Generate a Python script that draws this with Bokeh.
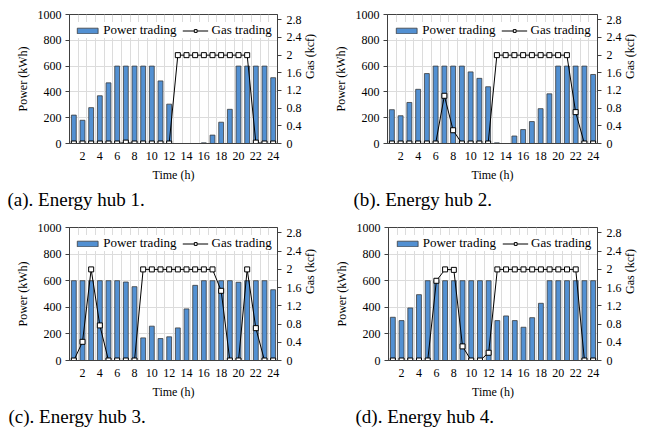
import math
from bokeh.plotting import figure
from bokeh.models import (Range1d, LinearAxis, FixedTicker, Legend, LegendItem, Title,
                          CustomJSTickFormatter, ColumnDataSource)
from bokeh.layouts import row, column
from bokeh.embed import file_html
from bokeh.resources import INLINE

FONT = "Liberation Serif"

hours = list(range(1, 25))
x_tick_labels = [2, 4, 6, 8, 10, 12, 14, 16, 18, 20, 22, 24]
power_ticks = [0, 200, 400, 600, 800, 1000]
gas_ticks = [0, 0.4, 0.8, 1.2, 1.6, 2, 2.4, 2.8]

captions = ["(a). Energy hub 1.", "(b). Energy hub 2.", "(c). Energy hub 3.", "(d). Energy hub 4."]

power_hub1 = [220, 180, 278, 370, 470, 600, 600, 600, 600, 600, 485, 305,
              0, 0, 0, 5, 65, 165, 265, 600, 600, 600, 600, 510]
gas_hub1 = [0, 0, 0, 0, 0, 0, 0.02, 0, 0, 0, 0, 0,
            2, 2, 2, 2, 2, 2, 2, 2, 2, 0.02, 0, 0]

power_hub2 = [262, 215, 318, 420, 542, 600, 600, 600, 600, 555, 505, 440,
              5, 0, 58, 108, 170, 270, 385, 600, 600, 600, 600, 535]
gas_hub2 = [0, 0, 0, 0, 0, 0, 1.08, 0.3, 0, 0, 0, 0,
            2, 2, 2, 2, 2, 2, 2, 2, 2, 0.71, 0, 0]

power_hub3 = [600, 600, 600, 600, 600, 600, 590, 555, 170, 258, 165, 178,
              245, 388, 565, 600, 600, 600, 600, 588, 600, 600, 600, 532]
gas_hub3 = [0, 0.41, 2, 0.77, 0, 0, 0, 0, 2, 2, 2, 2,
            2, 2, 2, 2, 2, 1.53, 0, 0, 2, 0.71, 0, 0]

power_hub4 = [325, 300, 395, 495, 600, 600, 600, 600, 600, 600, 600, 600,
              300, 335, 300, 250, 322, 430, 600, 600, 600, 600, 600, 600]
gas_hub4 = [0, 0, 0, 0, 0, 1.75, 2, 1.99, 0.31, 0, 0, 0.17,
            2, 2, 2, 2, 2, 2, 2, 2, 2, 2, 0, 0]

BAR_FILL = "#5290D2"
BAR_LINE = "#3C3C3C"
AXIS_COLOR = "#404040"
GRID_COLOR = "#DCDCDC"


def make_panel(power, gas, caption, width, height, bl, br, bt, bb, cap_offset):
    p = figure(width=width, height=height,
               x_range=Range1d(0.5, 24.5), y_range=Range1d(0, 1000),
               output_backend="svg", toolbar_location=None,
               min_border_left=bl, min_border_right=br,
               min_border_top=bt, min_border_bottom=bb)
    p.extra_y_ranges = {"gas": Range1d(0, 2.92)}
    p.outline_line_color = AXIS_COLOR
    p.outline_line_width = 1
    p.background_fill_color = "white"
    p.border_fill_color = "white"

    src = ColumnDataSource(dict(hours=hours, power=power, gas=gas))

    # grids
    p.xgrid.ticker = FixedTicker(ticks=[h - 0.5 for h in hours] + [hours[-1] + 0.5])
    p.ygrid.ticker = FixedTicker(ticks=power_ticks)
    p.xgrid.grid_line_color = GRID_COLOR
    p.ygrid.grid_line_color = GRID_COLOR

    bars = p.vbar(x="hours", top="power", width=0.56, source=src,
                  fill_color=BAR_FILL, line_color=BAR_LINE, line_width=0.8)
    gl = p.line(x="hours", y="gas", source=src, y_range_name="gas",
                line_color="black", line_width=1)
    gm = p.scatter(x="hours", y="gas", source=src, y_range_name="gas",
                   marker="square", size=5, fill_color="white",
                   line_color="black", line_width=1)

    # x axis
    xa = p.xaxis[0]
    xa.ticker = FixedTicker(ticks=x_tick_labels)
    xa.axis_label = "Time (h)"
    xa.major_tick_line_color = None
    xa.minor_tick_line_color = None
    xa.major_tick_out = 0
    xa.major_tick_in = 0
    xa.minor_tick_out = 0
    xa.axis_line_color = AXIS_COLOR
    xa.major_label_standoff = 8
    xa.axis_label_standoff = 5

    # left axis
    ya = p.yaxis[0]
    ya.ticker = FixedTicker(ticks=power_ticks)
    ya.axis_label = "Power (kWh)"
    ya.minor_tick_line_color = None
    ya.minor_tick_out = 0
    ya.major_tick_in = 0
    ya.major_tick_out = 4
    ya.axis_line_color = AXIS_COLOR
    ya.major_tick_line_color = AXIS_COLOR
    ya.major_label_standoff = 4
    ya.axis_label_standoff = 5

    ra = LinearAxis(y_range_name="gas", axis_label="Gas (kcf)",
                    ticker=FixedTicker(ticks=gas_ticks),
                    formatter=CustomJSTickFormatter(code="return String(tick);"))
    ra.minor_tick_line_color = None
    ra.minor_tick_out = 0
    ra.major_tick_in = 0
    ra.major_tick_out = 4
    ra.axis_line_color = AXIS_COLOR
    ra.major_tick_line_color = AXIS_COLOR
    ra.major_label_standoff = 5
    ra.axis_label_standoff = 5
    ra.axis_label_orientation = math.pi / 2
    p.add_layout(ra, "right")

    for ax in (xa, ya, ra):
        ax.major_label_text_font = FONT
        ax.major_label_text_font_size = "12px"
        ax.major_label_text_color = "black"
        ax.axis_label_text_font = FONT
        ax.axis_label_text_font_size = "12px"
        ax.axis_label_text_font_style = "normal"
        ax.axis_label_text_color = "black"

    legend = Legend(items=[LegendItem(label="Power trading", renderers=[bars]),
                           LegendItem(label="Gas trading", renderers=[gl, gm])],
                    orientation="horizontal", location="top_center",
                    background_fill_color="white", background_fill_alpha=1,
                    border_line_color=None,
                    label_text_font=FONT, label_text_font_size="13px",
                    label_text_color="black",
                    glyph_width=26, glyph_height=7, label_height=13,
                    spacing=6, padding=3, margin=8, label_standoff=3)
    p.add_layout(legend)

    t = Title(text=caption, align="left", offset=cap_offset,
              text_font=FONT, text_font_size="19px", text_font_style="normal",
              text_color="black", standoff=5)
    p.add_layout(t, "below")
    return p


pa = make_panel(power_hub1, gas_hub1, captions[0], 326, 214, 69, 44, 14, 70, -62)
pb = make_panel(power_hub2, gas_hub2, captions[1], 320, 214, 61, 45, 9, 71, -34)
pc = make_panel(power_hub3, gas_hub3, captions[2], 326, 215, 69, 41, 12, 68, -61)
pd = make_panel(power_hub4, gas_hub4, captions[3], 320, 215, 62, 41, 13, 67, -33)

layout = column(row(pa, pb), row(pc, pd))

with open("out.html", "w") as f:
    f.write(file_html(layout, INLINE))
